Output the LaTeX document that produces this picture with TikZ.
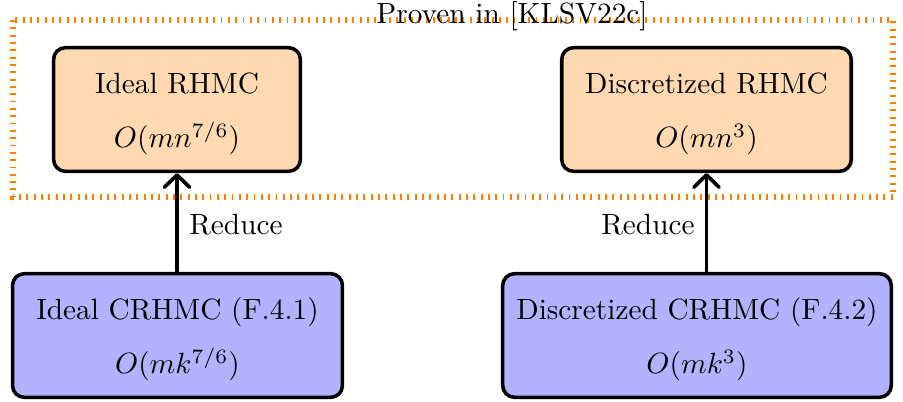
\documentclass[tikz,border=0pt]{standalone}
\usetikzlibrary{arrows.meta}
\newcommand{\toprule}{\rule{0pt}{10.3pt}}
\begin{document}
\begin{tikzpicture}[x=0.3413pt,y=-0.3413pt,
  boxstyle/.style={draw=black,very thick,rounded corners=4pt,align=center,inner sep=0pt,minimum height=42.2pt},
  topbox/.style={boxstyle,fill=orange!30},
  botbox/.style={boxstyle,fill=blue!30},
  redarrow/.style={line width=1.25pt,-{Straight Barb[length=4.2pt,width=8.6pt,round]}},
  provenbox/.style={draw=orange,line width=2.3pt,dash pattern=on 0.65pt off 1.85pt}]
\useasboundingbox (0,0) rectangle (903,401);
\draw[provenbox] (13,20) rectangle (893,197);
\node (prov) at (512,16) {Proven in [KLSV22c]};
\node[topbox,minimum width=84.2pt] (TL) at (177,109.5) {\toprule Ideal RHMC\\[6.4pt]$O(mn^{7/6})$};
\node[topbox,minimum width=98.8pt] (TR) at (706.5,109.5) {\toprule Discretized RHMC\\[6.4pt]$O(mn^{3})$};
\node[botbox,minimum width=112.6pt] (BL) at (177.5,335.5) {\toprule Ideal CRHMC (F.4.1)\\[6.4pt]$O(mk^{7/6})$};
\node[botbox,minimum width=132.6pt] (BR) at (697,335.5) {\toprule Discretized CRHMC (F.4.2)\\[6.4pt]$O(mk^{3})$};
\draw[redarrow] (TL.south |- BL.north) -- (TL.south);
\draw[redarrow] (TR.south |- BR.north) -- (TR.south);
\node (r1) at (236,225) {Reduce};
\node (r2) at (648,225) {Reduce};
\end{tikzpicture}
\end{document}
